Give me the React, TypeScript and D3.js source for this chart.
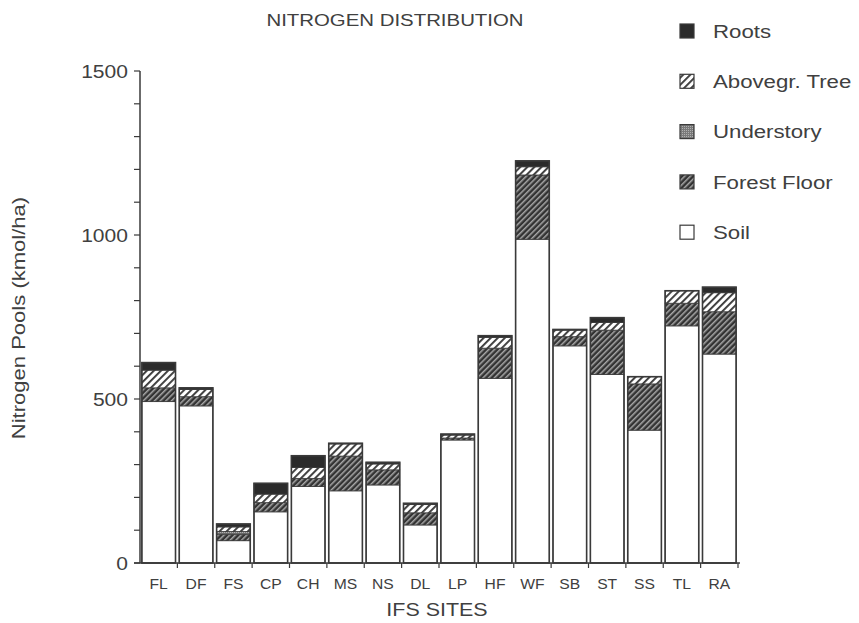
import React from "react";
import * as d3 from "d3";

// IFS sites and their nitrogen pools (kmol/ha), stacked bottom to top
const sites = ["FL", "DF", "FS", "CP", "CH", "MS", "NS", "DL", "LP", "HF", "WF", "SB", "ST", "SS", "TL", "RA"];
const soil = [492, 479, 68, 156, 233, 220, 238, 116, 375, 563, 987, 662, 575, 405, 723, 637];
const forestFloor = [42, 28, 20, 28, 25, 106, 46, 37, 6, 92, 196, 28, 135, 141, 69, 129];
const understory = [0, 0, 8, 0, 0, 0, 0, 0, 0, 0, 0, 0, 0, 0, 0, 0];
const aboveTree = [54, 22, 14, 26, 33, 37, 18, 25, 9, 33, 25, 20, 23, 22, 38, 58];
const roots = [23, 5, 9, 33, 36, 2, 5, 4, 3, 5, 18, 2, 15, 0, 0, 17];

const yTicks = [0, 500, 1000, 1500];
const yMinorTicks = d3.range(0, 1501, 100);

const seriesKeys = ["soil", "forestFloor", "understory", "aboveTree", "roots"];
const seriesFill: Record<string, string> = {
  soil: "#ffffff",
  forestFloor: "url(#hatchDark)",
  understory: "url(#stipple)",
  aboveTree: "url(#hatchLight)",
  roots: "#2b2b2b",
};
// legend order, top to bottom
const legendItems = [
  { key: "roots", label: "Roots" },
  { key: "aboveTree", label: "Abovegr. Tree" },
  { key: "understory", label: "Understory" },
  { key: "forestFloor", label: "Forest Floor" },
  { key: "soil", label: "Soil" },
];

const table = sites.map((site, i) => ({
  site,
  soil: soil[i],
  forestFloor: forestFloor[i],
  understory: understory[i],
  aboveTree: aboveTree[i],
  roots: roots[i],
}));

const W = 859;
const H = 623;
const FONT = "'Liberation Sans', Arial, Helvetica, sans-serif";
const INK = "#3a3a3a";

function Label({
  x, y, size, anchor = "start", sx = 1.17, rotate = 0, children,
}: {
  x: number; y: number; size: number; anchor?: string; sx?: number; rotate?: number; children: React.ReactNode;
}) {
  return (
    <text
      transform={`translate(${x},${y}) rotate(${rotate}) scale(${sx},1)`}
      textAnchor={anchor}
      fontFamily={FONT}
      fontSize={size}
      fill="#404040"
    >
      {children}
    </text>
  );
}

export default function App() {
  const x = d3.scaleBand<string>().domain(sites).range([140, 738]).paddingInner(0.1).paddingOuter(0.05);
  const y = d3.scaleLinear().domain([0, 1500]).range([563, 71]);
  const stacked = d3.stack<any>().keys(seriesKeys)(table);
  const step = x.step();
  const bw = x.bandwidth();
  const boundaries = sites.map((s) => (x(s) as number) + bw + (step * x.paddingInner()) / 2);

  return (
    <svg width={W} height={H} style={{ position: "absolute", left: 0, top: 0, background: "#fff" }}>
      <defs>
        <pattern id="hatchLight" width={5} height={5} patternUnits="userSpaceOnUse" patternTransform="rotate(45)">
          <rect width={5} height={5} fill="#fff" />
          <rect width={1.9} height={5} fill="#3a3a3a" />
        </pattern>
        <pattern id="hatchDark" width={4} height={4} patternUnits="userSpaceOnUse" patternTransform="rotate(45)">
          <rect width={4} height={4} fill="#333" />
          <rect width={1.5} height={4} fill="#a8a8a8" />
        </pattern>
        <pattern id="stipple" width={2} height={2} patternUnits="userSpaceOnUse">
          <rect width={2} height={2} fill="#7a7a7a" />
          <rect width={1} height={1} fill="#b0b0b0" />
        </pattern>
      </defs>

      {/* stacked bars */}
      {sites.map((site, i) => {
        const x0 = x(site) as number;
        const total = stacked[stacked.length - 1][i][1];
        return (
          <g key={site}>
            {stacked.map((layer) => {
              const [a, b] = layer[i];
              if (b - a <= 0) return null;
              return (
                <rect
                  key={layer.key}
                  x={x0}
                  y={y(b)}
                  width={bw}
                  height={y(a) - y(b)}
                  fill={seriesFill[layer.key]}
                  stroke={INK}
                  strokeWidth={0.8}
                />
              );
            })}
            <rect x={x0} y={y(total)} width={bw} height={y(0) - y(total)} fill="none" stroke={INK} strokeWidth={1.6} />
          </g>
        );
      })}

      {/* y axis */}
      <line x1={140} x2={140} y1={y(1500)} y2={y(0)} stroke={INK} strokeWidth={1.5} />
      {yMinorTicks.map((t) => (
        <line key={t} x1={134} x2={140} y1={y(t)} y2={y(t)} stroke={INK} strokeWidth={1.2} />
      ))}
      {yTicks.map((t) => (
        <Label key={t} x={128} y={y(t) + 6.5} size={18} anchor="end">
          {t}
        </Label>
      ))}

      {/* x axis */}
      <line x1={134} x2={740} y1={y(0)} y2={y(0)} stroke={INK} strokeWidth={1.5} />
      {boundaries.map((bx, i) => (
        <line key={i} x1={bx} x2={bx} y1={y(0)} y2={y(0) + 5} stroke={INK} strokeWidth={1.2} />
      ))}
      {sites.map((s) => (
        <Label key={s} x={(x(s) as number) + bw / 2} y={589} size={14} anchor="middle" sx={1.12}>
          {s}
        </Label>
      ))}

      {/* titles */}
      <Label x={395} y={26} size={17} anchor="middle" sx={1.2}>
        NITROGEN DISTRIBUTION
      </Label>
      <Label x={437} y={616} size={19} anchor="middle" sx={1.13}>
        IFS SITES
      </Label>
      <Label x={25} y={318} size={19} anchor="middle" rotate={-90} sx={1.16}>
        Nitrogen Pools (kmol/ha)
      </Label>

      {/* legend */}
      {legendItems.map((item, i) => {
        const cy = 31 + i * 50.3;
        return (
          <g key={item.key}>
            <rect x={680} y={cy - 7} width={14} height={14} fill={seriesFill[item.key]} stroke={INK} strokeWidth={1.2} />
            <Label x={713} y={cy + 6.8} size={19} sx={1.17}>
              {item.label}
            </Label>
          </g>
        );
      })}
    </svg>
  );
}
